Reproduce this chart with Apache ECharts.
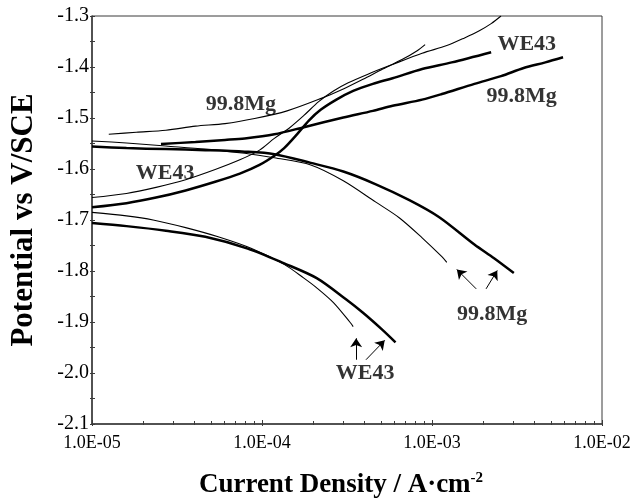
<!DOCTYPE html>
<html>
<head>
<meta charset="utf-8">
<script src="https://cdn.jsdelivr.net/npm/echarts@6/dist/echarts.min.js"></script>
<style>
  html, body { margin: 0; padding: 0; background: #fff; }
  #chart { width: 637px; height: 504px; }
</style>
</head>
<body>
<div id="chart"></div>
<script>
// Polarization curves: current density (A/cm2) vs potential (V/SCE)
// Thin lines and thick lines are two runs; each alloy has an anodic and a cathodic branch.

const xTickLabels = ['1.0E-05', '1.0E-04', '1.0E-03', '1.0E-02'];
const yTickValues = [-2.1, -2.0, -1.9, -1.8, -1.7, -1.6, -1.5, -1.4, -1.3];

// 99.8Mg, thin run, anodic branch
const mgThinAnI = [1.255e-5, 1.823e-5, 2.721e-5, 4.062e-5, 6.063e-5, 9.05e-5, 1.405e-4, 2.213e-4, 3.008e-4, 3.928e-4, 5.13e-4, 6.70e-4, 8.18e-4, 9.11e-4];
const mgThinAnE = [-1.532, -1.528, -1.524, -1.516, -1.511, -1.501, -1.486, -1.462, -1.443, -1.424, -1.404, -1.385, -1.368, -1.356];

// WE43, thin run, anodic branch
const weThinAnI = [1.0e-5, 1.595e-5, 2.381e-5, 3.554e-5, 5.305e-5, 7.406e-5, 9.67e-5, 1.182e-4, 1.443e-4, 1.764e-4, 2.154e-4, 2.632e-4, 3.215e-4, 4.20e-4, 5.865e-4, 8.75e-4, 1.222e-3, 1.554e-3, 1.898e-3, 2.228e-3, 2.546e-3];
const weThinAnE = [-1.656, -1.648, -1.636, -1.621, -1.601, -1.582, -1.563, -1.540, -1.520, -1.495, -1.468, -1.447, -1.431, -1.414, -1.395, -1.373, -1.358, -1.343, -1.329, -1.315, -1.300];

// WE43, thick run, anodic branch
const weThickAnI = [1.0e-5, 1.595e-5, 2.381e-5, 3.554e-5, 5.305e-5, 7.406e-5, 9.67e-5, 1.182e-4, 1.350e-4, 1.606e-4, 1.886e-4, 2.213e-4, 2.740e-4, 3.438e-4, 4.490e-4, 5.865e-4, 8.75e-4, 1.306e-3, 2.228e-3];
const weThickAnE = [-1.675, -1.667, -1.656, -1.642, -1.625, -1.609, -1.592, -1.574, -1.559, -1.532, -1.505, -1.484, -1.464, -1.447, -1.433, -1.422, -1.404, -1.391, -1.371];

// 99.8Mg, thick run, anodic branch
const mgThickAnI = [2.545e-5, 4.062e-5, 6.063e-5, 7.916e-5, 1.182e-4, 1.764e-4, 3.008e-4, 4.490e-4, 5.865e-4, 8.75e-4, 1.143e-3, 1.776e-3, 2.546e-3, 3.461e-3, 4.642e-3, 5.90e-3];
const mgThickAnE = [-1.551, -1.547, -1.543, -1.540, -1.532, -1.518, -1.499, -1.486, -1.476, -1.464, -1.453, -1.433, -1.418, -1.402, -1.391, -1.381];

// 99.8Mg, thin run, cathodic branch
const mgThinCaI = [1.0e-5, 1.595e-5, 2.721e-5, 4.642e-5, 7.916e-5, 1.182e-4, 1.936e-4, 3.008e-4, 4.674e-4, 6.44e-4, 8.75e-4, 1.143e-3, 1.222e-3];
const mgThinCaE = [-1.545, -1.549, -1.555, -1.561, -1.569, -1.578, -1.592, -1.623, -1.665, -1.696, -1.735, -1.772, -1.783];

// 99.8Mg, thick run, cathodic branch
const mgThickCaI = [1.0e-5, 1.595e-5, 2.721e-5, 4.642e-5, 7.916e-5, 1.182e-4, 1.936e-4, 3.008e-4, 4.674e-4, 7.36e-4, 1.098e-3, 1.776e-3, 2.318e-3, 3.029e-3];
const mgThickCaE = [-1.556, -1.559, -1.561, -1.563, -1.566, -1.571, -1.588, -1.605, -1.630, -1.661, -1.694, -1.748, -1.775, -1.804];

// WE43, thin run, cathodic branch
const weThinCaI = [1.0e-5, 1.595e-5, 2.288e-5, 3.554e-5, 5.521e-5, 8.69e-5, 1.350e-4, 1.764e-4, 2.098e-4, 2.632e-4, 3.302e-4, 3.438e-4];
const weThinCaE = [-1.685, -1.692, -1.700, -1.715, -1.733, -1.756, -1.787, -1.814, -1.833, -1.862, -1.901, -1.909];

// WE43, thick run, cathodic branch
const weThickCaI = [1.0e-5, 1.595e-5, 2.721e-5, 4.642e-5, 8.24e-5, 1.350e-4, 2.098e-4, 3.131e-4, 3.928e-4, 5.13e-4, 6.10e-4];
const weThickCaE = [-1.706, -1.712, -1.721, -1.733, -1.756, -1.785, -1.814, -1.856, -1.882, -1.916, -1.940];

// Curve labels
const labelText = ['99.8Mg', 'WE43', 'WE43', '99.8Mg', '99.8Mg', 'WE43'];
const labelI = [7.50e-5, 2.69e-5, 3.61e-3, 3.37e-3, 2.26e-3, 4.04e-4];
const labelE = [-1.474, -1.609, -1.356, -1.457, -1.884, -2.000];

// Arrows pointing at the ends of the cathodic branches: [from, to]
const arrowFromI = [1.82e-3, 2.08e-3, 3.58e-4, 4.09e-4];
const arrowFromE = [-1.835, -1.835, -1.974, -1.974];
const arrowToI = [1.40e-3, 2.42e-3, 3.58e-4, 5.27e-4];
const arrowToE = [-1.797, -1.799, -1.932, -1.936];

const FONT = "'Liberation Serif', 'Times New Roman', serif";
const lg = v => Math.log10(v);
const pts = (I, E) => I.map((c, k) => [lg(c), E[k]]);

const curves = [
  { name: '99.8Mg anodic (thin)', I: mgThinAnI, E: mgThinAnE, w: 1.1 },
  { name: 'WE43 anodic (thin)', I: weThinAnI, E: weThinAnE, w: 1.1 },
  { name: 'WE43 anodic (thick)', I: weThickAnI, E: weThickAnE, w: 2.5 },
  { name: '99.8Mg anodic (thick)', I: mgThickAnI, E: mgThickAnE, w: 2.5 },
  { name: '99.8Mg cathodic (thin)', I: mgThinCaI, E: mgThinCaE, w: 1.1 },
  { name: '99.8Mg cathodic (thick)', I: mgThickCaI, E: mgThickCaE, w: 2.5 },
  { name: 'WE43 cathodic (thin)', I: weThinCaI, E: weThinCaE, w: 1.1 },
  { name: 'WE43 cathodic (thick)', I: weThickCaI, E: weThickCaE, w: 2.5 }
];

// minor decade ticks at 2..9 x 10^n
const minorX = [];
for (let n = -5; n < -2; n++) for (let k = 2; k <= 9; k++) minorX.push(n + Math.log10(k));
const majorX = [-5, -4, -3, -2];
const yMinor = yTickValues.slice(0, -1).map(v => +(v + 0.05).toFixed(2));

const axisCol = '#3a3a3a';
const chart = echarts.init(document.getElementById('chart'), null, { renderer: 'canvas' });

const baseX = {
  type: 'value', min: -5, max: -2, interval: 1, position: 'bottom',
  splitLine: { show: false }
};
const baseY = {
  type: 'value', min: -2.1, max: -1.3, interval: 0.1, position: 'left',
  splitLine: { show: false }
};

const series = curves.map(c => ({
  name: c.name, type: 'line', xAxisIndex: 0, yAxisIndex: 0,
  data: pts(c.I, c.E), showSymbol: false, smooth: 0.3,
  lineStyle: { color: '#000', width: c.w }, z: 3, silent: true
}));

series.push({
  type: 'scatter', xAxisIndex: 0, yAxisIndex: 0, symbolSize: 0, silent: true,
  data: labelText.map((t, k) => ({ value: [lg(labelI[k]), labelE[k]], name: t })),
  label: {
    show: true, position: 'inside', formatter: p => p.name,
    fontFamily: FONT, fontWeight: 'bold', fontSize: 22, color: '#000'
  }, z: 4
});

series.push({
  type: 'lines', coordinateSystem: 'cartesian2d', xAxisIndex: 0, yAxisIndex: 0, silent: true,
  symbol: ['none', 'arrow'], symbolSize: 9,
  lineStyle: { color: '#000', width: 1, opacity: 1, curveness: 0 },
  data: arrowFromI.map((v, k) => ({ coords: [[lg(v), arrowFromE[k]], [lg(arrowToI[k]), arrowToE[k]]] })),
  z: 4
});

chart.setOption({
  backgroundColor: '#fff',
  animation: false,
  grid: { left: 85, right: 35, top: 16, bottom: 74, show: true, borderColor: axisCol, borderWidth: 1, backgroundColor: 'transparent' },
  xAxis: [
    Object.assign({}, baseX, {
      name: '{t|Current Density / A·cm}{s|-2}', nameLocation: 'middle', nameGap: 47,
      nameTextStyle: {
        padding: [0, 12, 0, 0],
        rich: {
          t: { fontFamily: FONT, fontWeight: 'bold', fontSize: 27, color: '#000' },
          s: { fontFamily: FONT, fontWeight: 'bold', fontSize: 15, color: '#000', verticalAlign: 'bottom', padding: [0, 0, 14, 0] }
        }
      },
      axisLine: { show: true, lineStyle: { color: axisCol, width: 1.5 } },
      axisTick: { show: true, inside: true, length: 4, lineStyle: { color: axisCol } },
      axisLabel: {
        show: true, margin: 10, fontFamily: FONT, fontSize: 18, color: '#000',
        showMinLabel: true, showMaxLabel: true,
        formatter: v => xTickLabels[Math.round(v) + 5]
      }
    }),
    Object.assign({}, baseX, {
      axisLine: { show: false }, axisLabel: { show: false },
      axisTick: { show: true, inside: false, length: 2, lineStyle: { color: axisCol }, customValues: majorX }
    }),
    Object.assign({}, baseX, {
      axisLine: { show: false }, axisLabel: { show: false },
      axisTick: { show: true, inside: true, length: 3, lineStyle: { color: axisCol }, customValues: minorX }
    }),
    Object.assign({}, baseX, {
      axisLine: { show: false }, axisLabel: { show: false },
      axisTick: { show: true, inside: false, length: 1, lineStyle: { color: axisCol }, customValues: minorX }
    })
  ],
  yAxis: [
    Object.assign({}, baseY, {
      name: 'Potential vs V/SCE', nameLocation: 'middle', nameGap: 53, nameRotate: 90,
      nameTextStyle: { fontFamily: FONT, fontWeight: 'bold', fontSize: 31, color: '#000' },
      axisLine: { show: true, lineStyle: { color: axisCol, width: 1.5 } },
      axisTick: { show: true, inside: true, length: 3, lineStyle: { color: axisCol } },
      axisLabel: { show: true, margin: 3, fontFamily: FONT, fontSize: 20, color: '#000', formatter: v => v.toFixed(1) }
    }),
    Object.assign({}, baseY, {
      axisLine: { show: false }, axisLabel: { show: false },
      axisTick: { show: true, inside: false, length: 2, lineStyle: { color: axisCol } }
    }),
    Object.assign({}, baseY, {
      axisLine: { show: false }, axisLabel: { show: false },
      axisTick: { show: true, inside: true, length: 3, lineStyle: { color: axisCol }, customValues: yMinor }
    }),
    Object.assign({}, baseY, {
      axisLine: { show: false }, axisLabel: { show: false },
      axisTick: { show: true, inside: false, length: 2, lineStyle: { color: axisCol }, customValues: yMinor }
    })
  ],
  series: series
});
</script>
</body>
</html>
